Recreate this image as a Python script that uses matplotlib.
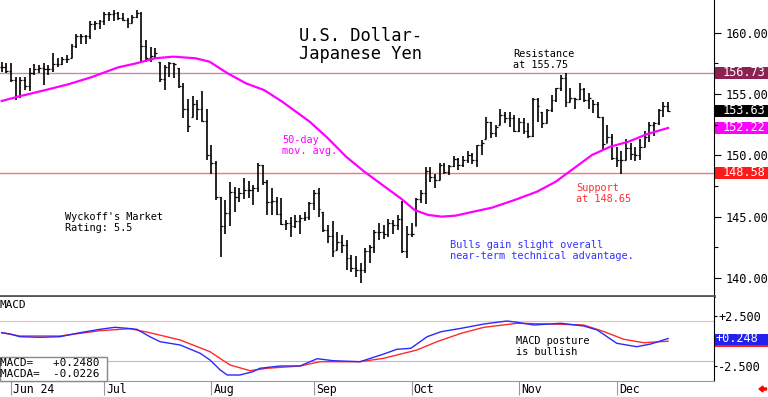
import numpy as np
import pandas as pd
import matplotlib
matplotlib.use("Agg")
import matplotlib.pyplot as plt
from matplotlib.patches import Rectangle, FancyArrow
from matplotlib.transforms import blended_transform_factory as blend

W, H = 768, 397
MONO = "DejaVu Sans Mono"

# daily bars, May 30 - Dec 17 2024 (weekdays)
dates = pd.bdate_range("2024-05-30", "2024-12-17")

high = [157.6, 157.5, 157.5, 156.4, 156.4, 156.4, 157.1, 157.4, 157.35, 157.5,
        157.35, 158.3, 157.9, 158.0, 158.2, 159.1, 159.9, 159.9, 159.8, 160.9,
        160.9, 161.0, 161.7, 161.7, 161.8, 161.7, 161.6, 161.2, 161.4, 161.8,
        161.7, 159.4, 158.8, 158.7, 157.6, 157.35, 157.6, 157.5, 157.1, 155.9,
        154.6, 154.8, 154.5, 155.2, 153.8, 150.8, 149.5, 146.6, 146.35, 147.8,
        147.4, 147.3, 148.1, 147.9, 147.6, 149.4, 149.2, 148.0, 147.3, 146.6,
        146.5, 144.7, 145.0, 145.1, 145.1, 145.4, 146.2, 147.2, 147.3, 145.4,
        144.3, 144.6, 143.7, 143.5, 143.1, 141.9, 141.8, 141.2, 142.4, 142.7,
        143.9, 144.5, 144.3, 144.8, 144.7, 145.1, 146.3, 144.2, 144.5, 146.5,
        147.2, 149.0, 149.0, 148.5, 149.4, 149.4, 149.2, 149.9, 149.8, 149.9,
        150.3, 150.2, 150.8, 151.2, 153.1, 152.7, 152.5, 153.8, 153.5, 153.5,
        153.3, 153.0, 153.0, 152.6, 154.7, 154.7, 153.5, 153.8, 154.9, 155.5,
        156.5, 156.7, 155.5, 154.7, 155.9, 155.5, 155.1, 154.5, 154.3, 153.1,
        152.5, 151.7, 150.7, 150.3, 151.3, 151.0, 150.7, 151.3, 152.0, 152.7,
        152.7, 153.8, 154.3, 154.3]
low = [156.8, 156.7, 156.0, 154.5, 154.7, 155.3, 155.2, 156.5, 156.7, 155.7,
       156.5, 156.8, 157.2, 157.35, 157.5, 157.9, 158.7, 159.1, 159.1, 159.5,
       160.2, 160.3, 160.6, 160.9, 160.9, 161.0, 160.9, 160.4, 160.8, 161.2,
       157.5, 157.6, 157.6, 157.9, 156.0, 155.3, 156.4, 156.3, 155.45, 153.0,
       151.9, 153.1, 152.9, 152.7, 149.6, 148.5, 146.35, 141.7, 143.6, 144.2,
       145.4, 146.2, 146.4, 146.5, 145.9, 147.0, 147.6, 145.1, 145.1, 145.1,
       144.3, 143.9, 143.3, 144.1, 143.6, 144.6, 144.7, 145.5, 145.0, 143.7,
       142.8, 141.7, 142.3, 142.0, 140.6, 140.5, 140.1, 139.6, 140.4, 141.2,
       142.0, 143.1, 143.2, 143.3, 143.6, 143.9, 142.0, 141.6, 143.3, 144.2,
       146.1, 146.0, 147.8, 147.3, 148.0, 148.5, 148.4, 149.0, 148.8, 149.0,
       149.4, 149.3, 149.0, 150.0, 151.3, 151.4, 151.5, 152.5, 152.6, 152.3,
       151.9, 151.9, 151.7, 151.4, 151.5, 152.7, 152.2, 152.6, 153.5, 154.3,
       155.2, 153.9, 154.3, 153.8, 154.5, 154.3, 153.8, 153.4, 153.0, 150.4,
       151.0, 149.6, 149.0, 148.5, 149.6, 149.6, 149.5, 149.6, 150.7, 151.1,
       151.6, 152.5, 153.1, 153.5]
close = [157.2, 156.9, 156.1, 154.8, 156.1, 155.6, 156.7, 157.0, 157.1, 157.0,
         157.0, 157.4, 157.4, 157.8, 157.8, 158.9, 159.7, 159.7, 159.7, 160.7,
         160.8, 160.9, 161.5, 161.5, 161.6, 161.2, 161.0, 160.8, 161.3, 161.6,
         158.9, 157.9, 158.1, 158.3, 156.2, 157.2, 157.5, 157.4, 155.6, 153.8,
         152.4, 154.2, 153.8, 152.8, 150.0, 149.4, 146.6, 144.2, 145.3, 147.0,
         146.6, 146.9, 147.2, 147.2, 147.3, 149.2, 147.8, 146.2, 146.3, 145.2,
         144.4, 144.5, 144.2, 144.6, 144.9, 145.0, 146.1, 146.9, 145.6, 143.9,
         143.4, 142.2, 142.9, 142.7, 141.6, 140.8, 140.6, 140.6, 142.2, 142.5,
         143.7, 143.7, 143.6, 144.5, 144.3, 144.8, 142.2, 143.6, 143.6, 146.4,
         146.9, 148.7, 148.2, 148.0, 149.2, 148.6, 149.1, 149.7, 149.2, 149.6,
         150.0, 149.6, 150.8, 151.0, 152.7, 151.8, 152.3, 153.3, 153.0, 153.0,
         152.0, 152.7, 152.0, 151.6, 154.6, 154.0, 152.6, 153.7, 154.5, 155.5,
         156.3, 154.3, 154.7, 154.6, 155.4, 154.5, 154.7, 154.2, 153.1, 150.9,
         151.5, 149.8, 149.6, 149.6, 150.6, 150.1, 150.0, 150.7, 151.5, 152.5,
         152.6, 153.7, 154.0, 153.63]

# 50-day moving average (bar index, price)
ma_idx = [0, 3.5, 9.4, 14.3, 19.2, 25.0, 28.9, 32.9, 36.8, 41.6, 44.6, 48.5,
          52.4, 56.3, 60.2, 66.1, 70.0, 73.9, 77.8, 81.7, 85.6, 88.6, 91.5,
          94.4, 97.4, 101.3, 105.2, 110.1, 114.9, 118.9, 122.8, 126.7, 130.6,
          134.5, 138.4, 143.0]
ma_val = [154.42, 154.77, 155.31, 155.78, 156.35, 157.16, 157.49, 157.90,
          158.03, 157.90, 157.62, 156.67, 155.86, 155.31, 154.36, 152.73,
          151.38, 149.88, 148.66, 147.57, 146.49, 145.53, 145.13, 144.99,
          145.07, 145.40, 145.72, 146.35, 147.03, 147.84, 148.93, 150.02,
          150.69, 151.10, 151.70, 152.22]

# MACD and its average
macd_idx = [0, 1.8, 3.9, 8.2, 12.5, 16.8, 21.1, 24.3, 26.9, 29.0, 31.8, 34.0,
            38.3, 42.6, 44.7, 46.9, 48.4, 51.1, 53.9, 55.4, 59.7, 64.0, 67.7,
            71.1, 76.9, 82.0, 84.8, 87.8, 91.3, 94.3, 98.6, 103.5, 108.4, 110.6,
            114.2, 120.0, 124.9, 127.8, 132.0, 136.3, 139.3, 143.0]
macd_val = [0.83, 0.70, 0.43, 0.37, 0.43, 0.83, 1.17, 1.37, 1.27, 1.17, 0.43,
            -0.07, -0.40, -1.23, -1.90, -2.90, -3.40, -3.40, -3.07, -2.73, -2.50,
            -2.50, -1.77, -1.97, -2.07, -1.30, -0.83, -0.73, 0.43, 0.93, 1.27,
            1.70, 2.00, 1.87, 1.60, 1.77, 1.50, 1.10, -0.23, -0.57, -0.30, 0.248]
sig_idx = [0, 3.9, 12.5, 21.1, 27.5, 31.8, 38.3, 44.7, 49.0, 53.3, 56.9, 64.0,
           68.3, 76.9, 82.0, 89.1, 93.4, 98.6, 103.5, 110.6, 117.9, 124.9, 129.3,
           133.5, 137.8, 143.0]
sig_val = [0.83, 0.50, 0.50, 1.03, 1.23, 0.83, 0.10, -1.07, -2.40, -2.97, -2.73,
           -2.50, -2.07, -2.07, -1.73, -0.90, -0.07, 0.77, 1.37, 1.77, 1.70, 1.60,
           0.93, 0.17, -0.17, -0.0226]

resistance = 156.73
support = 148.58
last_close = close[-1]
last_ma = ma_val[-1]

price_ticks = [140, 145, 150, 155, 160]
price_minor = [142.5, 147.5, 152.5, 157.5]
macd_ticks = [2.5, -2.5]


def px(x, y):
    return x / W, 1 - y / H


x = np.arange(len(close))
open_ = np.clip(np.r_[close[0], close[:-1]], low, high)

fig = plt.figure(figsize=(W / 100, H / 100), dpi=100)
ax = fig.add_axes([0, 1 - 296 / H, 714 / W, 296 / H])
axm = fig.add_axes([0, 1 - 381 / H, 714 / W, 84 / H])
for a in (ax, axm):
    a.set_xlim(-0.365, 152.86)
    a.spines["left"].set_visible(False)
    a.spines["top"].set_visible(False)
    a.spines["right"].set_linewidth(0.8)
ax.set_ylim(138.52, 162.65)
axm.set_ylim(-4.0, 4.4)
ax.spines["bottom"].set_color("#555555")
ax.spines["bottom"].set_linewidth(2)
axm.spines["bottom"].set_color("#999999")
axm.spines["bottom"].set_linewidth(0.8)

# price panel
ax.axhline(resistance, color="#C48CA8", lw=1.0, zorder=1)
ax.axhline(support, color="#F07878", lw=1.0, zorder=1)
ax.vlines(x, low, high, color="black", lw=1.2, zorder=2)
ax.hlines(open_, x - 0.4, x, color="black", lw=0.9, zorder=2)
ax.hlines(close, x, x + 0.4, color="black", lw=0.9, zorder=2)
ax.plot(ma_idx, ma_val, color="#FF00FF", lw=1.6, zorder=3)

ax.set_xticks([])
ax.yaxis.tick_right()
ax.set_yticks(price_ticks)
ax.set_yticklabels([f"{v:.2f}" for v in price_ticks])
ax.set_yticks(price_minor, minor=True)
ax.tick_params(axis="y", which="major", length=5, width=0.8, pad=3, labelsize=8.6)
ax.tick_params(axis="y", which="minor", length=3, width=0.8)
for t in ax.get_yticklabels():
    t.set_fontfamily(MONO)

tr = blend(ax.transAxes, ax.transData)
for val, col in [(resistance, "#8B2252"), (last_close, "#000000"),
                 (last_ma, "#FF00FF"), (support, "#FF1A1A")]:
    ax.add_patch(Rectangle((715 / 714, val - 0.49), 53 / 714, 0.98, transform=tr,
                           fc=col, ec="none", clip_on=False))
    ax.text(723 / 714, val, f"{val:.2f}", transform=tr, va="center", ha="left",
            color="white", fontsize=8.6, family=MONO, clip_on=False)

# MACD panel
axm.axhline(2, color="#FFB4B4", lw=0.8)
axm.axhline(-2, color="#B4B4FF", lw=0.8)
axm.plot(sig_idx, sig_val, color="#FF2A2A", lw=1.0)
axm.plot(macd_idx, macd_val, color="#2A2AFF", lw=1.0)
axm.yaxis.tick_right()
axm.set_yticks(macd_ticks)
axm.set_yticklabels([f"{v:+.3f}" for v in macd_ticks])
axm.tick_params(axis="y", length=2, width=0.8, pad=1, labelsize=8.6)
for t in axm.get_yticklabels():
    t.set_fontfamily(MONO)

trm = blend(axm.transAxes, axm.transData)
axm.add_patch(Rectangle((715 / 714, sig_val[-1] - 0.6), 53 / 714, 1.2, transform=trm,
                        fc="#FF1A1A", ec="none", clip_on=False))
axm.add_patch(Rectangle((715 / 714, macd_val[-1] - 0.6), 53 / 714, 1.1, transform=trm,
                        fc="#2222EE", ec="none", clip_on=False))
axm.text(716 / 714, macd_val[-1], f"{macd_val[-1]:+.3f}", transform=trm, va="center",
         ha="left", color="white", fontsize=8.6, family=MONO, clip_on=False)

# month axis
first = pd.Series(np.arange(len(dates)), index=dates).groupby(dates.to_period("M")).first()
month_idx = [i for i in first.values if i > 0]
month_lbl = [dates[i].strftime("%b %y") if k == 0 else dates[i].strftime("%b")
             for k, i in enumerate(month_idx)]
axm.set_xticks(month_idx)
axm.set_xticklabels([])
axm.tick_params(axis="x", length=10, width=0.8, color="#999999")
trx = blend(axm.transData, axm.transAxes)
for i, s in zip(month_idx, month_lbl):
    axm.text(i + 0.45, (381 - 393) / 84, s, transform=trx, va="baseline", ha="left",
             fontsize=8.3, family=MONO, clip_on=False)

# annotations
fig.text(*px(299, 41), "U.S. Dollar-", fontsize=12.3, family=MONO, va="baseline")
fig.text(*px(299, 59), "Japanese Yen", fontsize=12.3, family=MONO, va="baseline")
notes = [
    (513, 57, ["Resistance", "at 155.75"], "black"),
    (282, 143, ["50-day", "mov. avg."], "#FF00FF"),
    (576, 191, ["Support", "at 148.65"], "#FF3030"),
    (65, 220, ["Wyckoff's Market", "Rating: 5.5"], "black"),
    (450, 248, ["Bulls gain slight overall", "near-term technical advantage."], "#3333FF"),
    (516, 344, ["MACD posture", "is bullish"], "black"),
]
for nx, ny, lines, col in notes:
    for k, s in enumerate(lines):
        fig.text(*px(nx, ny + k * 11), s, fontsize=7.4, family=MONO, color=col,
                 va="baseline")
fig.text(*px(0, 308), "MACD", fontsize=7.9, family=MONO, va="baseline")

fig.patches.append(Rectangle(px(0, 381), 107 / W, 24 / H, transform=fig.transFigure,
                             fc="white", ec="#888888", lw=1, zorder=5))
fig.text(*px(0, 366), f"MACD=   {macd_val[-1]:+.4f}", fontsize=7.9, family=MONO,
         va="baseline", zorder=6)
fig.text(*px(0, 377), f"MACDA=  {sig_val[-1]:+.4f}", fontsize=7.9, family=MONO,
         va="baseline", zorder=6)

fig.patches.append(FancyArrow(7.665, 0.08, -0.075, 0, width=0.02, head_width=0.06,
                              head_length=0.04, length_includes_head=True,
                              transform=fig.dpi_scale_trans, color="#FF0000"))

fig.savefig("out.png", dpi=100)
